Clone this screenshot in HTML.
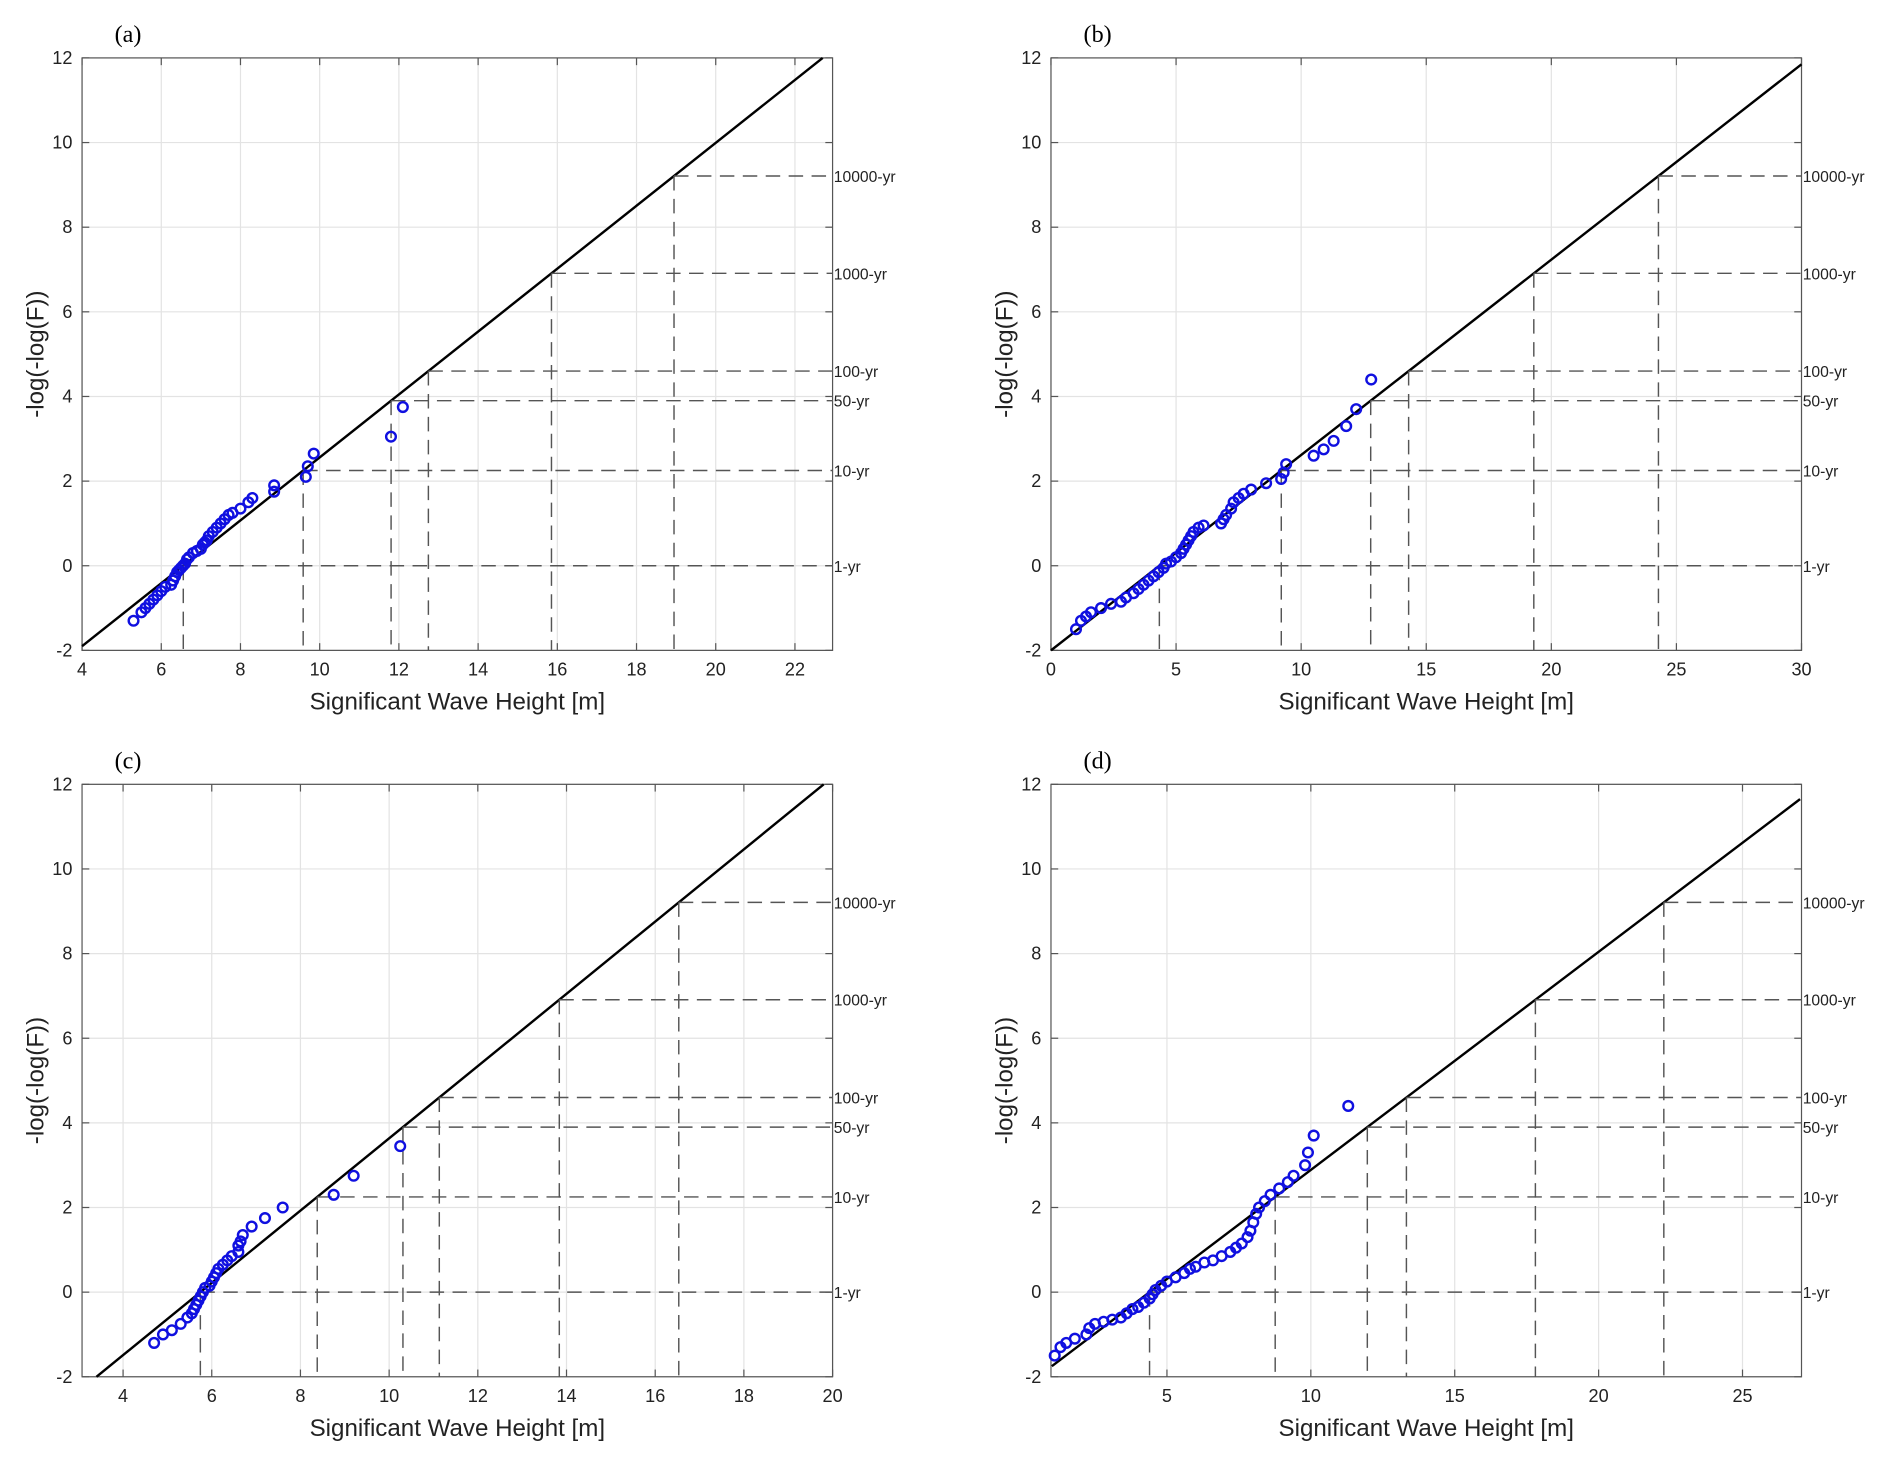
<!DOCTYPE html>
<html><head><meta charset="utf-8"><style>
html,body{margin:0;padding:0;background:#fff;}
svg{display:block;}
text{font-family:"Liberation Sans",Arial,sans-serif;fill:#222;}
.tick{font-size:15px;}
.rp{font-size:13px;}
.xl{font-size:20px;}
.pl{font-family:"Liberation Serif",serif;font-size:20px;fill:#000;}
</style></head><body>
<svg id="fig" width="1892" height="1468" viewBox="0 0 1568 1216.6" preserveAspectRatio="none" xmlns="http://www.w3.org/2000/svg"></svg>
<script>
// ---- data ----
const returnLabels = ["1-yr","10-yr","50-yr","100-yr","1000-yr","10000-yr"];
const returnLevels = [0, 2.25, 3.90, 4.60, 6.91, 9.21];
const yTicks = [-2,0,2,4,6,8,10,12];

const aXTicks = [4,6,8,10,12,14,16,18,20,22];
const aFitX = [4, 22.7];
const aFitY = [-1.9, 12];
const aPtsX = [5.3,5.5,5.6,5.7,5.8,5.9,6.0,6.1,6.25,6.3,6.35,6.4,6.45,6.5,6.55,6.6,6.65,6.7,6.8,6.9,7.0,7.05,7.1,7.15,7.2,7.3,7.4,7.5,7.6,7.7,7.8,8.0,8.2,8.3,8.85,8.85,9.65,9.7,9.85,11.8,12.1];
const aPtsY = [-1.3,-1.1,-1.0,-0.9,-0.8,-0.7,-0.6,-0.5,-0.45,-0.35,-0.25,-0.15,-0.1,-0.05,0.0,0.05,0.15,0.2,0.3,0.35,0.4,0.5,0.55,0.6,0.7,0.8,0.9,1.0,1.1,1.2,1.25,1.35,1.5,1.6,1.75,1.9,2.1,2.35,2.65,3.05,3.75];

const bXTicks = [0,5,10,15,20,25,30];
const bFitX = [0, 30];
const bFitY = [-2, 11.85];
const bPtsX = [1.0,1.2,1.4,1.6,2.0,2.4,2.8,3.0,3.3,3.5,3.7,3.9,4.1,4.3,4.5,4.6,4.8,5.0,5.2,5.3,5.4,5.5,5.6,5.7,5.9,6.1,6.8,6.9,7.0,7.2,7.3,7.5,7.7,8.0,8.6,9.2,9.3,9.4,10.5,10.9,11.3,11.8,12.2,12.8];
const bPtsY = [-1.5,-1.3,-1.2,-1.1,-1.0,-0.9,-0.85,-0.75,-0.65,-0.55,-0.45,-0.35,-0.25,-0.15,-0.05,0.05,0.1,0.2,0.3,0.4,0.5,0.6,0.7,0.8,0.9,0.95,1.0,1.1,1.2,1.35,1.5,1.6,1.7,1.8,1.95,2.05,2.2,2.4,2.6,2.75,2.95,3.3,3.7,4.4];

const cXTicks = [4,6,8,10,12,14,16,18,20];
const cFitX = [3.4, 19.8];
const cFitY = [-2, 12];
const cPtsX = [4.7,4.9,5.1,5.3,5.45,5.55,5.6,5.65,5.7,5.75,5.8,5.85,5.95,6.0,6.05,6.1,6.15,6.25,6.35,6.45,6.6,6.6,6.65,6.7,6.9,7.2,7.6,8.75,9.2,10.25];
const cPtsY = [-1.2,-1.0,-0.9,-0.75,-0.6,-0.5,-0.4,-0.3,-0.2,-0.1,0.0,0.1,0.15,0.25,0.35,0.45,0.55,0.65,0.75,0.85,0.95,1.1,1.2,1.35,1.55,1.75,2.0,2.3,2.75,3.45];

const dXTicks = [5,10,15,20,25];
const dFitX = [1, 27];
const dFitY = [-1.75, 11.65];
const dPtsX = [1.1,1.3,1.5,1.8,2.2,2.3,2.5,2.8,3.1,3.4,3.6,3.8,4.0,4.2,4.4,4.5,4.6,4.8,5.0,5.3,5.6,5.8,6.0,6.3,6.6,6.9,7.2,7.4,7.6,7.8,7.9,8.0,8.1,8.2,8.4,8.6,8.9,9.2,9.4,9.8,9.9,10.1,11.3];
const dPtsY = [-1.5,-1.3,-1.2,-1.1,-1.0,-0.85,-0.75,-0.7,-0.65,-0.6,-0.5,-0.4,-0.35,-0.25,-0.15,-0.05,0.05,0.15,0.25,0.35,0.45,0.55,0.6,0.7,0.75,0.85,0.95,1.05,1.15,1.3,1.45,1.65,1.85,2.0,2.15,2.3,2.45,2.6,2.75,3.0,3.3,3.7,4.4];

const NS = "http://www.w3.org/2000/svg";
const svg = document.getElementById('fig');
function mk(tag, attrs, parent){ const e=document.createElementNS(NS,tag); for(const k in attrs) e.setAttribute(k,attrs[k]); (parent||svg).appendChild(e); return e; }

function panel(id, L, R, T, B, xmin, xmax, xTicks, fitX, fitY, px, py){
  const g = mk('g',{});
  
  
  const sx = v => L + (v - xmin) / (xmax - xmin) * (R - L);
  const sy = v => B - (v + 2) / 14 * (B - T);
  xTicks.forEach(t => { const l=mk('line',{x1:sx(t),x2:sx(t),y1:T,y2:B,stroke:'#e3e3e3','stroke-width':1},g);
      });
  yTicks.forEach(t => { const l=mk('line',{x1:L,x2:R,y1:sy(t),y2:sy(t),stroke:'#e3e3e3','stroke-width':1},g);
      });
  const box = mk('rect',{x:L,y:T,width:R-L,height:B-T,fill:'none',stroke:'#555','stroke-width':1},g);
   
  xTicks.forEach(t => {
    mk('line',{x1:sx(t),x2:sx(t),y1:B,y2:B-6,stroke:'#555'},g);
    mk('line',{x1:sx(t),x2:sx(t),y1:T,y2:T+6,stroke:'#555'},g);
    const tx = mk('text',{x:sx(t),y:B+21,'text-anchor':'middle',class:'tick'},g); tx.textContent=t;
     
  });
  yTicks.forEach(t => {
    mk('line',{x1:L,x2:L+6,y1:sy(t),y2:sy(t),stroke:'#555'},g);
    mk('line',{x1:R,x2:R-6,y1:sy(t),y2:sy(t),stroke:'#555'},g);
    const tx = mk('text',{x:L-8,y:sy(t)+5,'text-anchor':'end',class:'tick'},g); tx.textContent=t;
     
  });
  const slope = (fitY[1]-fitY[0])/(fitX[1]-fitX[0]);
  const fl = mk('line',{x1:sx(fitX[0]),y1:sy(fitY[0]),x2:sx(fitX[1]),y2:sy(fitY[1]),stroke:'#000','stroke-width':2},g);
   
  returnLevels.forEach((lv,i) => {
    const xi = fitX[0] + (lv - fitY[0]) / slope;
    const h = mk('line',{x1:sx(xi),x2:R,y1:sy(lv),y2:sy(lv),stroke:'#555','stroke-width':1.2,'stroke-dasharray':'12 7'},g);
     
    const v = mk('line',{x1:sx(xi),x2:sx(xi),y1:sy(lv),y2:B,stroke:'#555','stroke-width':1.2,'stroke-dasharray':'12 7'},g);
     
    const tx = mk('text',{x:R+1,y:sy(lv)+5,class:'rp'},g); tx.textContent=returnLabels[i];
     
  });
  px.forEach((x,i) => {
    const c = mk('circle',{cx:sx(x),cy:sy(py[i]),r:4,fill:'none',stroke:'#1010e0','stroke-width':2},g);
     
  });
  const xl = mk('text',{x:(L+R)/2,y:B+49,'text-anchor':'middle',class:'xl'},g); xl.textContent='Significant Wave Height [m]';
   
  const cy=(T+B)/2;
  const yl = mk('text',{x:L-32,y:cy,'text-anchor':'middle',class:'xl',transform:`rotate(-90 ${L-32} ${cy})`},g); yl.textContent='-log(-log(F))';
   
  const pl = mk('text',{x:L+27,y:T-13,class:'pl'},g); pl.textContent='('+id+')';
   
}
panel('a', 68, 690, 48, 539, 4, 22.95, aXTicks, aFitX, aFitY, aPtsX, aPtsY);
panel('b', 871, 1493, 48, 539, 0, 30, bXTicks, bFitX, bFitY, bPtsX, bPtsY);
panel('c', 68, 690, 650, 1141, 3.075, 20, cXTicks, cFitX, cFitY, cPtsX, cPtsY);
panel('d', 871, 1493, 650, 1141, 0.97, 27.05, dXTicks, dFitX, dFitY, dPtsX, dPtsY);
</script>
</body></html>
